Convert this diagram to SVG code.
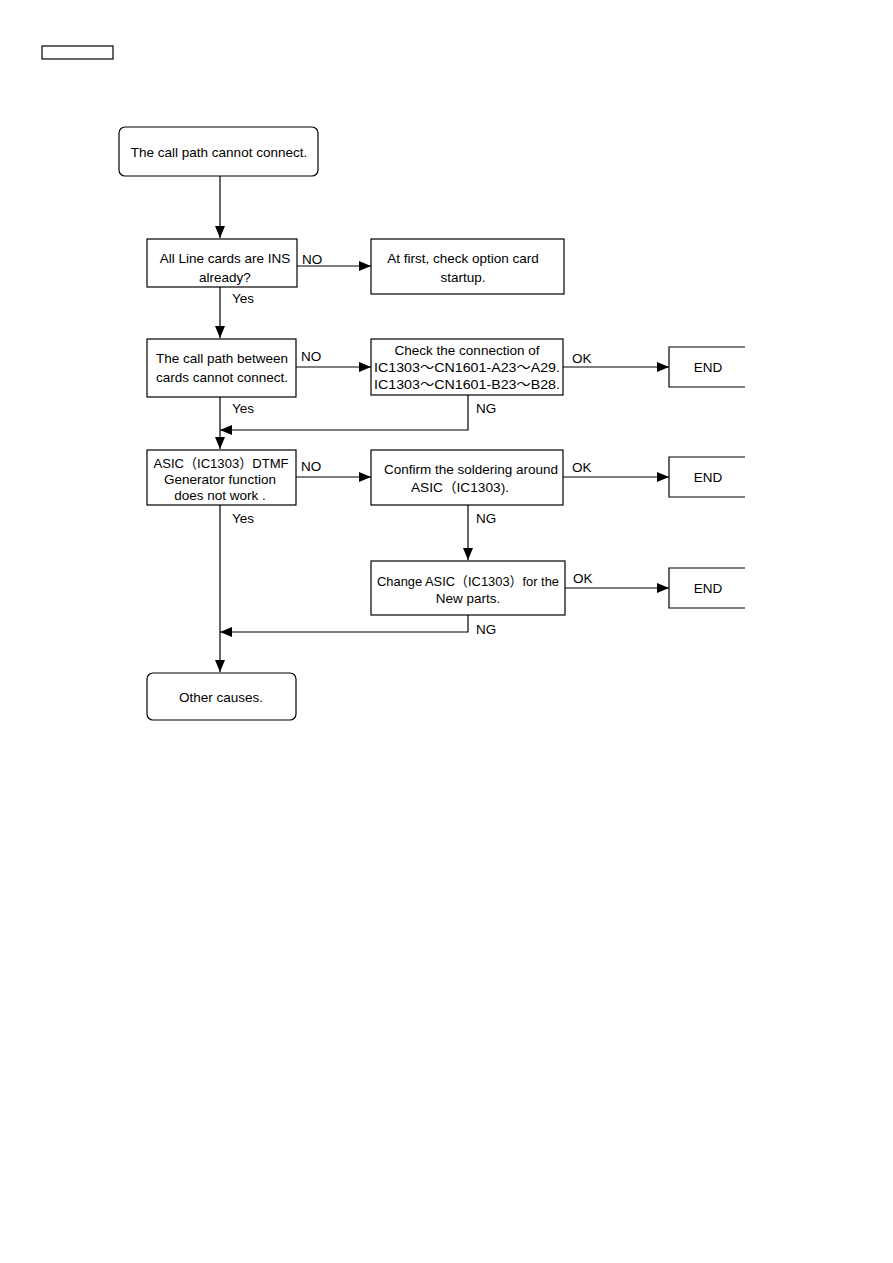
<svg xmlns="http://www.w3.org/2000/svg" width="893" height="1263" viewBox="0 0 893 1263">
<defs>
<marker id="ah" viewBox="0 0 12 10" refX="12" refY="5" markerWidth="12" markerHeight="10" markerUnits="userSpaceOnUse" orient="auto">
<path d="M0,0 L12,5 L0,10 Z" fill="#000"/>
</marker>
</defs>
<style>
.box{fill:#fff;stroke:#000;stroke-width:1.2}
.open{fill:none;stroke:#000;stroke-width:1.2}
.t{font-family:"Liberation Sans",Arial,"Noto Sans CJK JP",sans-serif;font-size:13.5px;fill:#000;text-anchor:middle}
.l{font-family:"Liberation Sans",Arial,sans-serif;font-size:13.5px;fill:#000}
.c{fill:none;stroke:#000;stroke-width:1.2}
.ca{fill:none;stroke:#000;stroke-width:1.2;marker-end:url(#ah)}
</style>
<rect width="893" height="1263" fill="#fff"/>
<rect id="header" x="42" y="46" width="71" height="13" class="box"/>

<g id="connectors">
<path class="ca" d="M220,176 V238"/>
<path class="ca" d="M297,266 H371"/>
<path class="ca" d="M220,287 V338"/>
<path class="ca" d="M296,367 H371"/>
<path class="ca" d="M563,367 H669"/>
<path class="ca" d="M468,395 V430 H220"/>
<path class="ca" d="M220,397 V449"/>
<path class="ca" d="M296,477 H371"/>
<path class="ca" d="M563,477 H669"/>
<path class="ca" d="M468,505 V560"/>
<path class="ca" d="M220,505 V672"/>
<path class="ca" d="M565,588 H669"/>
<path class="ca" d="M468,615 V632 H220"/>
<text class="l" x="302" y="264">NO</text>
<text class="l" x="232" y="303">Yes</text>
<text class="l" x="301" y="361">NO</text>
<text class="l" x="572" y="363">OK</text>
<text class="l" x="476" y="413">NG</text>
<text class="l" x="232" y="413">Yes</text>
<text class="l" x="301" y="471">NO</text>
<text class="l" x="572" y="472">OK</text>
<text class="l" x="476" y="523">NG</text>
<text class="l" x="232" y="523">Yes</text>
<text class="l" x="573" y="583">OK</text>
<text class="l" x="476" y="634">NG</text>
</g>

<g id="start">
<rect class="box" x="119" y="127" width="199" height="49" rx="6"/>
<text class="t" x="219" y="157">The call path cannot connect.</text>
</g>
<g id="q1">
<rect class="box" x="147" y="239" width="150" height="48"/>
<text class="t" x="225" y="263">All Line cards are INS</text>
<text class="t" x="225" y="282">already?</text>
</g>
<g id="a1">
<rect class="box" x="371" y="239" width="193" height="55"/>
<text class="t" x="463" y="263">At first, check option card</text>
<text class="t" x="463" y="282">startup.</text>
</g>
<g id="q2">
<rect class="box" x="147" y="339" width="149" height="58"/>
<text class="t" x="222" y="363">The call path between</text>
<text class="t" x="222" y="382">cards cannot connect.</text>
</g>
<g id="a2">
<rect class="box" x="371" y="339" width="192" height="56"/>
<text class="t" x="467" y="355">Check the connection of</text>
<text class="t" x="467" y="372" textLength="186" lengthAdjust="spacingAndGlyphs">IC1303～CN1601-A23～A29.</text>
<text class="t" x="467" y="389" textLength="186" lengthAdjust="spacingAndGlyphs">IC1303～CN1601-B23～B28.</text>
</g>
<g id="end1">
<path class="open" d="M745,347 H669 V387 H745"/>
<text class="t" x="708" y="372">END</text>
</g>
<g id="q3">
<rect class="box" x="147" y="450" width="149" height="55"/>
<text class="t" x="221" y="468" textLength="135" lengthAdjust="spacingAndGlyphs">ASIC（IC1303）DTMF</text>
<text class="t" x="220" y="484">Generator function</text>
<text class="t" x="220" y="500">does not work .</text>
</g>
<g id="a3">
<rect class="box" x="371" y="450" width="192" height="55"/>
<text class="t" x="471" y="474">Confirm the soldering around</text>
<text class="t" x="460" y="492" textLength="98" lengthAdjust="spacingAndGlyphs">ASIC（IC1303).</text>
</g>
<g id="end2">
<path class="open" d="M745,457 H669 V497 H745"/>
<text class="t" x="708" y="482">END</text>
</g>
<g id="a4">
<rect class="box" x="371" y="561" width="194" height="54"/>
<text class="t" x="468" y="586" textLength="182" lengthAdjust="spacingAndGlyphs">Change ASIC（IC1303）for the</text>
<text class="t" x="468" y="603">New parts.</text>
</g>
<g id="end3">
<path class="open" d="M745,568 H669 V608 H745"/>
<text class="t" x="708" y="593">END</text>
</g>
<g id="other">
<rect class="box" x="147" y="673" width="149" height="47" rx="6"/>
<text class="t" x="221" y="702">Other causes.</text>
</g>
</svg>
